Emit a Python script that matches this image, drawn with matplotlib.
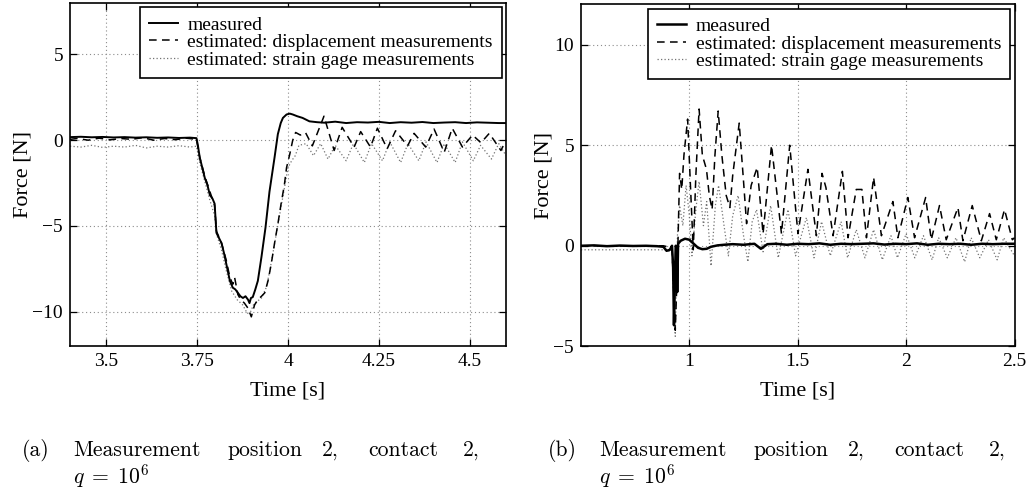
import matplotlib
matplotlib.use("Agg")
import matplotlib.pyplot as plt

plt.rcParams['font.family'] = ['Liberation Serif', 'DejaVu Serif']
plt.rcParams['mathtext.fontset'] = 'cm'

labels = ['measured', 'estimated: displacement measurements',
          'estimated: strain gage measurements']

# ---- panel (a) ----
t_a_meas = [3.40, 3.43, 3.46, 3.49, 3.52, 3.55, 3.58, 3.61, 3.64, 3.67, 3.70, 3.73,
            3.748, 3.752, 3.757, 3.764, 3.771, 3.778, 3.785, 3.792, 3.798, 3.803, 3.810,
            3.817, 3.824, 3.830, 3.840, 3.848, 3.855, 3.862, 3.869, 3.876, 3.883, 3.890,
            3.894, 3.898, 3.903, 3.910, 3.917, 3.927, 3.938, 3.949, 3.956, 3.963, 3.972,
            3.980, 3.986, 3.996, 4.005, 4.013, 4.025, 4.040, 4.059, 4.08, 4.10, 4.13,
            4.16, 4.19, 4.22, 4.25, 4.28, 4.31, 4.34, 4.37, 4.40, 4.43, 4.46, 4.49,
            4.52, 4.55, 4.58, 4.60]
f_a_meas = [0.18, 0.2, 0.17, 0.19, 0.16, 0.18, 0.15, 0.17, 0.14, 0.16, 0.13, 0.15,
            0.12, -0.3, -1.0, -1.6, -2.2, -2.6, -3.2, -3.4, -3.7, -5.4, -5.7,
            -6.0, -6.6, -7.2, -8.2, -8.6, -8.7, -8.9, -9.1, -9.2, -9.1, -9.3,
            -9.5, -9.2, -9.15, -8.7, -8.2, -6.8, -5.1, -3.0, -2.0, -1.0, 0.35,
            1.0, 1.3, 1.5, 1.55, 1.5, 1.4, 1.3, 1.1, 1.05, 1.02, 1.08,
            1.0, 1.05, 1.03, 1.07, 1.0, 1.05, 1.02, 1.06, 1.0, 1.03, 1.05, 1.0,
            1.04, 1.02, 1.0, 1.0]

t_a_disp = [3.40, 3.42, 3.45, 3.48, 3.51, 3.54, 3.57, 3.60, 3.63, 3.66, 3.69, 3.72,
            3.748, 3.757, 3.771, 3.785, 3.798, 3.803, 3.817, 3.830, 3.840, 3.848, 3.853,
            3.862, 3.870, 3.880, 3.890, 3.899, 3.908, 3.917, 3.927, 3.936, 3.945, 3.954,
            3.963, 3.972, 3.981, 3.990, 3.996, 4.005, 4.013, 4.021, 4.034, 4.048, 4.067,
            4.099, 4.127, 4.149, 4.182, 4.200, 4.227, 4.246, 4.273, 4.296, 4.329, 4.347,
            4.379, 4.402, 4.430, 4.452, 4.480, 4.508, 4.531, 4.554, 4.586, 4.600]
f_a_disp = [0.05, 0.1, 0.0, 0.12, 0.02, 0.1, 0.05, 0.15, 0.0, 0.1, 0.03, 0.12,
            0.05, -1.0, -2.1, -3.0, -3.8, -5.3, -6.0, -7.0, -8.0, -8.4, -8.0,
            -9.0, -9.3, -9.5, -9.8, -10.3, -9.6, -9.3, -9.1, -8.9, -8.2, -7.2,
            -6.0, -4.9, -3.7, -2.6, -1.6, -0.8, 0.0, 0.45, 0.3, 0.45, -0.33,
            1.4, -0.6, 0.75, -0.4, 0.5, -0.4, 0.7, -0.5, 0.55, -0.33, 0.4,
            -0.4, 0.65, -0.7, 0.7, -0.4, 0.3, -0.15, 0.4, -0.6, 0.0]

t_a_strain = [3.40, 3.43, 3.46, 3.49, 3.52, 3.55, 3.58, 3.61, 3.64, 3.67, 3.70, 3.73,
              3.748, 3.757, 3.771, 3.785, 3.798, 3.805, 3.817, 3.830, 3.845, 3.860,
              3.875, 3.888, 3.897, 3.905, 3.915, 3.927, 3.940, 3.950, 3.960, 3.970,
              3.980, 3.990, 4.000, 4.010, 4.020, 4.030, 4.050, 4.070, 4.090, 4.110,
              4.130, 4.160, 4.180, 4.210, 4.230, 4.260, 4.280, 4.310, 4.330, 4.360,
              4.380, 4.410, 4.430, 4.460, 4.480, 4.510, 4.530, 4.560, 4.580, 4.600]
f_a_strain = [-0.35, -0.4, -0.3, -0.42, -0.35, -0.4, -0.3, -0.45, -0.35, -0.4, -0.32, -0.4,
              -0.35, -1.3, -2.4, -3.5, -4.4, -5.6, -6.4, -7.6, -8.8, -9.3,
              -9.6, -10.1, -10.0, -9.6, -9.4, -9.2, -8.6, -7.6, -6.4, -5.2,
              -4.0, -2.8, -1.6, -1.2, -0.9, -0.3, -0.2, -0.9, -0.2, -1.1,
              -0.3, -1.2, -0.2, -1.3, -0.2, -1.2, -0.1, -1.3, -0.2, -1.2,
              -0.1, -1.3, -0.2, -1.3, -0.1, -1.2, -0.3, -1.1, -0.2, -0.9]

# ---- panel (b) ----
t_b_meas = [0.50, 0.56, 0.62, 0.68, 0.74, 0.80, 0.85, 0.88, 0.895, 0.91, 0.92, 0.925,
            0.929, 0.933, 0.937, 0.941, 0.944, 0.948, 0.96, 0.98, 1.00, 1.02, 1.04,
            1.06, 1.08, 1.10, 1.13, 1.16, 1.20, 1.25, 1.30, 1.33, 1.36, 1.40, 1.45,
            1.50, 1.55, 1.60, 1.65, 1.70, 1.75, 1.80, 1.85, 1.90, 1.95, 2.00, 2.05,
            2.10, 2.15, 2.20, 2.25, 2.30, 2.35, 2.40, 2.45, 2.50]
f_b_meas = [0.0, 0.02, -0.02, 0.01, -0.01, 0.0, -0.02, -0.05, -0.25, -0.2, 0.0, -1.0,
            -3.95, -2.0, 0.0, -0.1, -2.3, 0.1, 0.25, 0.35, 0.3, 0.1, -0.1,
            -0.17, -0.15, -0.05, 0.02, 0.05, 0.08, 0.05, 0.1, -0.15, 0.08, 0.1, 0.05,
            0.1, 0.08, 0.12, 0.05, 0.1, 0.08, 0.1, 0.12, 0.06, 0.1, 0.08, 0.12,
            0.05, 0.1, 0.08, 0.1, 0.05, 0.1, 0.08, 0.1, 0.1]

t_b_disp = [0.50, 0.88, 0.92, 0.935, 0.945, 0.955, 0.965, 0.975, 0.992, 1.005, 1.018,
            1.03, 1.045, 1.06, 1.079, 1.092, 1.105, 1.118, 1.133, 1.15, 1.17, 1.187,
            1.20, 1.23, 1.25, 1.264, 1.285, 1.313, 1.34, 1.379, 1.425, 1.463, 1.501,
            1.547, 1.586, 1.612, 1.63, 1.663, 1.706, 1.732, 1.770, 1.796, 1.817, 1.850,
            1.886, 1.939, 1.962, 2.008, 2.039, 2.09, 2.116, 2.154, 2.185, 2.239, 2.262,
            2.305, 2.347, 2.385, 2.416, 2.454, 2.49, 2.50]
f_b_disp = [0.0, 0.0, -0.1, -4.2, -1.0, 3.6, 2.8, 4.5, 6.3, 3.0, -0.2,
            3.5, 6.8, 4.5, 3.8, 2.5, 1.8, 4.5, 6.7, 4.5, 2.5, 1.9,
            3.5, 6.1, 3.2, 1.1, 3.0, 3.9, 0.6, 5.0, 0.6, 5.0, 0.6,
            3.8, 0.5, 3.6, 2.9, 0.5, 3.7, 0.4, 2.8, 2.8, 0.4, 3.4,
            0.5, 2.2, 0.4, 2.4, 0.4, 2.4, 0.3, 2.0, 0.3, 1.9, 0.25,
            2.0, 0.25, 1.6, 0.3, 1.8, 0.3, 0.4]

t_b_strain = [0.50, 0.88, 0.92, 0.935, 0.945, 0.955, 0.97, 0.985, 1.0, 1.012, 1.03,
              1.045, 1.065, 1.08, 1.10, 1.12, 1.135, 1.16, 1.18, 1.20, 1.225, 1.25,
              1.27, 1.29, 1.31, 1.34, 1.375, 1.41, 1.455, 1.49, 1.54, 1.575, 1.61,
              1.65, 1.70, 1.73, 1.77, 1.81, 1.85, 1.89, 1.93, 1.96, 2.00, 2.04,
              2.08, 2.12, 2.15, 2.19, 2.23, 2.27, 2.30, 2.34, 2.38, 2.42, 2.45, 2.50]
f_b_strain = [-0.2, -0.2, -0.3, -4.5, 0.5, 2.0, 1.0, 3.0, 1.5, -0.5, 1.8,
              3.2, 1.0, 2.2, -1.0, 2.0, 3.0, 1.0, -0.5, 1.5, 2.5, 0.5,
              -0.8, 1.2, 1.8, -0.3, 2.0, -0.6, 1.8, -0.5, 1.4, -0.6, 1.2,
              -0.5, 1.2, -0.6, 0.8, -0.6, 0.8, -0.7, 0.5, -0.6, 0.6, -0.6,
              0.5, -0.7, 0.4, -0.6, 0.4, -0.8, 0.4, -0.6, 0.3, -0.7, 0.4, -0.5]

panels = [
    dict(rect=[0.0679, 0.2982, 0.4229, 0.6957], xlim=(3.4, 4.6), ylim=(-12, 8),
         xticks=[3.5, 3.75, 4, 4.25, 4.5], xtl=['3.5', '3.75', '4', '4.25', '4.5'],
         yticks=[-10, -5, 0, 5], series=[(t_a_meas, f_a_meas), (t_a_disp, f_a_disp),
                                         (t_a_strain, f_a_strain)], mlw=1.4),
    dict(rect=[0.5635, 0.2975, 0.4205, 0.6935], xlim=(0.5, 2.5), ylim=(-5, 12),
         xticks=[1, 1.5, 2, 2.5], xtl=['1', '1.5', '2', '2.5'],
         yticks=[-5, 0, 5, 10], series=[(t_b_meas, f_b_meas), (t_b_disp, f_b_disp),
                                        (t_b_strain, f_b_strain)], mlw=1.8),
]

fig = plt.figure(figsize=(10.31, 4.93), dpi=100)

for p in panels:
    ax = fig.add_axes(p['rect'])
    (tm, fm), (td, fd), (ts, fs) = p['series']
    l1, = ax.plot(tm, fm, color='k', lw=p['mlw'], zorder=4)
    l2, = ax.plot(td, fd, color='k', lw=1.1, dashes=(5, 3.5), zorder=3)
    l3, = ax.plot(ts, fs, color='0.45', lw=0.9, dashes=(1, 1.8), zorder=2)
    ax.set_xlim(p['xlim'])
    ax.set_ylim(p['ylim'])
    ax.set_xticks(p['xticks'])
    ax.set_xticklabels(p['xtl'])
    ax.set_yticks(p['yticks'])
    ax.grid(True, color='0.55', linestyle=(0, (1, 2.5)), lw=0.8)
    ax.tick_params(direction='in', top=True, right=True, length=5, width=0.9,
                   labelsize=14, pad=5)
    for s in ax.spines.values():
        s.set_linewidth(1.2)
    ax.set_xlabel('Time [s]', fontsize=16, labelpad=8)
    ax.set_ylabel('Force [N]', fontsize=16, labelpad=0)
    leg = ax.legend([l1, l2, l3], labels, loc='upper right', fontsize=14,
                    handlelength=1.5, handletextpad=0.5, borderpad=0.45,
                    labelspacing=0.0, borderaxespad=0.22, fancybox=False,
                    framealpha=1)
    leg.get_frame().set_edgecolor('k')
    leg.get_frame().set_linewidth(1.2)

# captions, words placed so the lines look justified
cap_words = ['Measurement', 'position', '2,', 'contact', '2,']
cap_x = [73, 227, 322, 368, 463]
for tag, dx in [('(a)', 0), ('(b)', 526)]:
    fig.text((22 + dx) / 1031, 1 - 456 / 493, tag, fontfamily='cmr10', fontsize=15.6,
             va='baseline')
    for w, x in zip(cap_words, cap_x):
        fig.text((x + dx) / 1031, 1 - 456 / 493, w, fontfamily='cmr10', fontsize=15.6,
                 va='baseline')
    fig.text((73 + dx) / 1031, 1 - 484 / 493, r'$q\;=\;10^6$', fontsize=15.6,
             va='baseline')

fig.savefig('out.png', dpi=100)
